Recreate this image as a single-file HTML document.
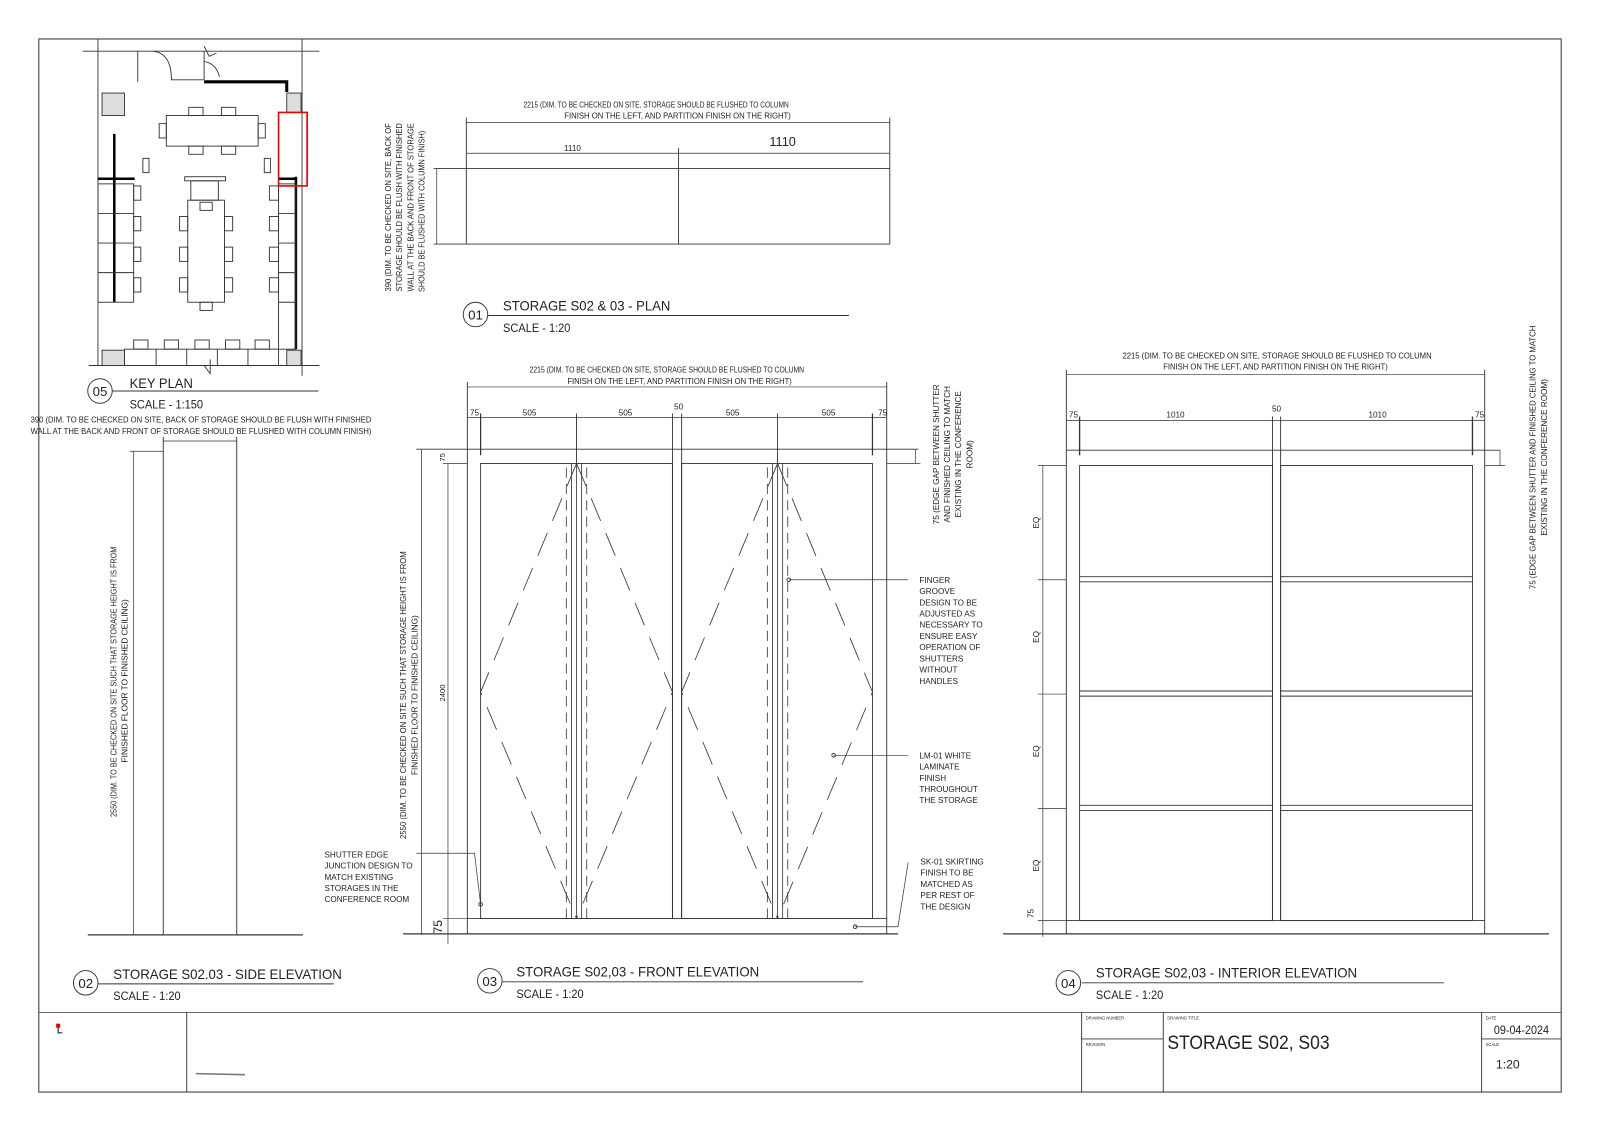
<!DOCTYPE html>
<html><head><meta charset="utf-8"><style>
html,body{margin:0;padding:0;background:#fff;}
svg{display:block;}
text{font-family:"Liberation Sans",Arial,sans-serif;fill:#222;}
.t{font-size:8px;}
.n{font-size:8px;}
.h{font-size:14px;}
.s{font-size:11.5px;}
</style></head><body>
<svg width="1600" height="1131" viewBox="0 0 1568 1108" xmlns="http://www.w3.org/2000/svg">
<g fill="none" stroke="#333" stroke-width="0.9">
<rect x="38" y="38" width="1492" height="1032" stroke="#555" stroke-width="1.2"/>
<line x1="38" y1="992" x2="1530" y2="992" stroke="#555"/>
<line x1="183" y1="992" x2="183" y2="1070"/>
<line x1="1060" y1="992" x2="1060" y2="1070"/>
<line x1="1140" y1="992" x2="1140" y2="1070"/>
<line x1="1452" y1="992" x2="1452" y2="1070"/>
<line x1="1060" y1="1018" x2="1140" y2="1018"/>
<line x1="1452" y1="1018" x2="1530" y2="1018"/>
<line x1="192" y1="1052" x2="240" y2="1053" stroke="#777" stroke-width="1.5"/>

<!-- KEY PLAN -->
<line x1="96" y1="38" x2="96" y2="296"/>
<line x1="296" y1="38" x2="296" y2="368"/>
<line x1="81" y1="50" x2="313" y2="50"/>
<line x1="87" y1="358" x2="313" y2="358"/>
<line x1="96" y1="296" x2="96" y2="358"/>
<line x1="135" y1="50" x2="135" y2="80"/>
<path d="M150 50 Q168 52 168 78 L200 78"/>
<path d="M200 50 L200 78 M200 60 Q212 62 215 75 M200 45 L205 55 L212 52"/>
<rect x="100" y="91" width="22" height="22" fill="#ddd"/>
<rect x="281" y="91" width="14" height="19" fill="#ddd"/>
<rect x="100" y="343" width="22" height="15" fill="#ddd"/>
<rect x="281" y="343" width="14" height="15" fill="#ddd"/>
<path d="M200 80 L281 80 L281 90" stroke="#000" stroke-width="3"/>
<path d="M290 173 L290 342" stroke="#000" stroke-width="2.5"/>
<path d="M112 131 L112 296" stroke="#000" stroke-width="2.5"/>
<path d="M96 175 L132 175 M273 175 L290 175" stroke="#000" stroke-width="2.5"/>
<rect x="163" y="113" width="90" height="30"/>
<rect x="185" y="105" width="14" height="8"/><rect x="217" y="105" width="14" height="8"/>
<rect x="185" y="143" width="14" height="8"/><rect x="217" y="143" width="14" height="8"/>
<rect x="156" y="121" width="7" height="14"/><rect x="253" y="121" width="7" height="14"/>
<rect x="181" y="173" width="40" height="4"/>
<rect x="187" y="177" width="27" height="19"/>
<rect x="184" y="196" width="36" height="100"/>
<rect x="196" y="198" width="12" height="8"/><rect x="196" y="296" width="12" height="8"/>
<rect x="176" y="212" width="8" height="14"/><rect x="176" y="242" width="8" height="14"/><rect x="176" y="272" width="8" height="14"/>
<rect x="220" y="212" width="8" height="14"/><rect x="220" y="242" width="8" height="14"/><rect x="220" y="272" width="8" height="14"/>
<rect x="96" y="180" width="35" height="116"/>
<line x1="96" y1="209" x2="131" y2="209"/><line x1="96" y1="238" x2="131" y2="238"/><line x1="96" y1="267" x2="131" y2="267"/>
<rect x="131" y="182" width="7" height="14"/><rect x="131" y="212" width="7" height="14"/><rect x="131" y="242" width="7" height="14"/><rect x="131" y="272" width="7" height="14"/>
<rect x="273" y="180" width="17" height="162"/>
<line x1="273" y1="209" x2="290" y2="209"/><line x1="273" y1="238" x2="290" y2="238"/><line x1="273" y1="267" x2="290" y2="267"/><line x1="273" y1="296" x2="290" y2="296"/>
<rect x="264" y="182" width="9" height="14"/><rect x="264" y="212" width="9" height="14"/><rect x="264" y="242" width="9" height="14"/><rect x="264" y="272" width="9" height="14"/>
<rect x="140" y="155" width="6" height="14"/><rect x="259" y="155" width="6" height="14"/>
<rect x="122" y="342" width="151" height="16"/>
<line x1="153" y1="342" x2="153" y2="358"/><line x1="183" y1="342" x2="183" y2="358"/><line x1="213" y1="342" x2="213" y2="358"/><line x1="243" y1="342" x2="243" y2="358"/>
<rect x="131" y="333" width="14" height="9"/><rect x="161" y="333" width="14" height="9"/><rect x="191" y="333" width="14" height="9"/><rect x="221" y="333" width="14" height="9"/><rect x="250" y="333" width="14" height="9"/>
<path d="M200 358 L206 366 L206 352"/>
<rect x="273" y="110" width="28" height="72" stroke="#e00" stroke-width="1.6"/>
<circle cx="98" cy="383" r="12"/>
<line x1="110" y1="383" x2="312" y2="383"/>

<!-- SIDE ELEVATION 02 -->
<line x1="160" y1="432" x2="232" y2="432" stroke-width="0.7"/>
<line x1="160" y1="428" x2="160" y2="916"/>
<line x1="232" y1="428" x2="232" y2="916"/>
<line x1="127" y1="442" x2="160" y2="442" stroke-width="0.7"/>
<line x1="131" y1="442" x2="131" y2="916" stroke-width="0.7"/>
<line x1="86" y1="916" x2="297" y2="916" stroke-width="1.2"/>
<circle cx="84" cy="963" r="12"/>
<line x1="96" y1="964" x2="327" y2="964"/>

<!-- PLAN 01 -->
<line x1="457" y1="120" x2="872" y2="120" stroke-width="0.7"/>
<line x1="457" y1="115" x2="457" y2="239"/>
<line x1="872" y1="115" x2="872" y2="239"/>
<line x1="457" y1="150" x2="872" y2="150" stroke-width="0.7"/>
<line x1="665" y1="145" x2="665" y2="239"/>
<line x1="425" y1="165" x2="872" y2="165"/>
<line x1="425" y1="239" x2="872" y2="239"/>
<line x1="428" y1="165" x2="428" y2="239" stroke-width="0.7"/>
<circle cx="466" cy="308" r="12"/>
<line x1="478" y1="309" x2="832" y2="309"/>

<!-- FRONT ELEVATION 03 -->
<line x1="458" y1="379" x2="869" y2="379" stroke-width="0.7"/>
<line x1="458" y1="409" x2="869" y2="409" stroke-width="0.7"/>
<line x1="408" y1="440" x2="900" y2="440"/>
<line x1="458" y1="374" x2="458" y2="915"/>
<line x1="869" y1="374" x2="869" y2="915"/>
<line x1="659" y1="405" x2="659" y2="900"/>
<line x1="668" y1="405" x2="668" y2="900"/>
<line x1="471" y1="405" x2="471" y2="446" stroke-width="1.2"/>
<line x1="855" y1="405" x2="855" y2="446" stroke-width="1.2"/>
<line x1="565" y1="405" x2="565" y2="454"/>
<line x1="762" y1="405" x2="762" y2="454"/>
<rect x="471" y="454" width="188" height="446"/>
<rect x="668" y="454" width="187" height="446"/>
<line x1="458" y1="900" x2="869" y2="900"/>
<line x1="395" y1="915" x2="880" y2="915" stroke-width="1.2"/>
<line x1="983" y1="915" x2="1518" y2="915" stroke-width="1.2"/>
<g stroke-width="0.8">
<line x1="560" y1="454" x2="560" y2="900"/><line x1="565" y1="454" x2="565" y2="900"/><line x1="570" y1="454" x2="570" y2="900"/>
<line x1="757" y1="454" x2="757" y2="900"/><line x1="762" y1="454" x2="762" y2="900"/><line x1="767" y1="454" x2="767" y2="900"/>
</g>
<g stroke-dasharray="10 6" stroke-width="0.8">
<line x1="555" y1="458" x2="555" y2="900"/><line x1="575" y1="458" x2="575" y2="900"/>
<line x1="752" y1="458" x2="752" y2="900"/><line x1="772" y1="458" x2="772" y2="900"/>
</g>
<g stroke-dasharray="24 13" stroke-width="0.8">
<path d="M565 454 L471 678 L565 900 M565 454 L659 678 L565 900"/>
<path d="M762 454 L668 678 L762 900 M762 454 L855 678 L762 900"/>
</g>
<line x1="897" y1="440" x2="897" y2="454" stroke-width="0.7"/>
<line x1="869" y1="454" x2="902" y2="454" stroke-width="0.7"/>
<line x1="413" y1="440" x2="413" y2="916" stroke-width="0.7"/>
<line x1="439" y1="454" x2="439" y2="925" stroke-width="0.7"/>
<line x1="434" y1="454" x2="458" y2="454" stroke-width="0.7"/>
<line x1="434" y1="900" x2="458" y2="900" stroke-width="0.7"/>
<path d="M773 568 L890 568" stroke-width="0.7"/><circle cx="773" cy="568" r="1.8"/>
<path d="M817 740 L890 740" stroke-width="0.7"/><circle cx="817" cy="740" r="1.8"/>
<path d="M838 908 L880 908 L890 845" stroke-width="0.7"/><circle cx="838" cy="908" r="1.8"/>
<path d="M408 836 L465 836 L471 886" stroke-width="0.7"/><circle cx="471" cy="886" r="1.8"/>
<circle cx="480" cy="961" r="12"/>
<line x1="492" y1="962" x2="846" y2="962"/>

<!-- INTERIOR ELEVATION 04 -->
<line x1="1045" y1="367" x2="1455" y2="367" stroke-width="0.7"/>
<line x1="1045" y1="412" x2="1455" y2="412" stroke-width="0.7"/>
<line x1="1045" y1="362" x2="1045" y2="915"/>
<line x1="1455" y1="362" x2="1455" y2="915"/>
<line x1="1045" y1="441" x2="1470" y2="441"/>
<line x1="1058" y1="408" x2="1058" y2="446" stroke-width="1.3"/>
<line x1="1443" y1="408" x2="1443" y2="446" stroke-width="1.3"/>
<line x1="1247" y1="408" x2="1247" y2="902"/>
<line x1="1255" y1="408" x2="1255" y2="902"/>
<rect x="1058" y="456" width="189" height="446"/>
<rect x="1255" y="456" width="188" height="446"/>
<g>
<line x1="1058" y1="565" x2="1247" y2="565"/><line x1="1058" y1="570" x2="1247" y2="570"/>
<line x1="1255" y1="565" x2="1443" y2="565"/><line x1="1255" y1="570" x2="1443" y2="570"/>
<line x1="1058" y1="677" x2="1247" y2="677"/><line x1="1058" y1="682" x2="1247" y2="682"/>
<line x1="1255" y1="677" x2="1443" y2="677"/><line x1="1255" y1="682" x2="1443" y2="682"/>
<line x1="1058" y1="789" x2="1247" y2="789"/><line x1="1058" y1="794" x2="1247" y2="794"/>
<line x1="1255" y1="789" x2="1443" y2="789"/><line x1="1255" y1="794" x2="1443" y2="794"/>
</g>
<line x1="1045" y1="902" x2="1455" y2="902"/>
<line x1="1022" y1="456" x2="1022" y2="918" stroke-width="0.7"/>
<g stroke-width="0.7">
<line x1="1017" y1="456" x2="1045" y2="456"/><line x1="1017" y1="568" x2="1045" y2="568"/>
<line x1="1017" y1="680" x2="1045" y2="680"/><line x1="1017" y1="792" x2="1045" y2="792"/>
<line x1="1017" y1="902" x2="1045" y2="902"/>
<line x1="1470" y1="441" x2="1470" y2="456"/><line x1="1455" y1="456" x2="1475" y2="456"/>
</g>
<circle cx="1047" cy="963" r="12"/>
<line x1="1060" y1="963" x2="1415" y2="963"/>
</g>

<!-- TEXT -->
<g>
<text x="98" y="388" font-size="13" text-anchor="middle">05</text>
<text x="127" y="380" font-size="13.5" textLength="62" lengthAdjust="spacingAndGlyphs">KEY PLAN</text>
<text x="127" y="400" class="s" textLength="72" lengthAdjust="spacingAndGlyphs">SCALE - 1:150</text>
<text x="30" y="414" class="t" textLength="334" lengthAdjust="spacingAndGlyphs">390 (DIM. TO BE CHECKED ON SITE, BACK OF STORAGE SHOULD BE FLUSH WITH FINISHED</text>
<text x="30" y="425" class="t" textLength="334" lengthAdjust="spacingAndGlyphs">WALL AT THE BACK AND FRONT OF STORAGE SHOULD BE FLUSHED WITH COLUMN FINISH)</text>
<g transform="rotate(-90 114 668)"><text x="114" y="668" class="t" text-anchor="middle" textLength="265" lengthAdjust="spacingAndGlyphs">2550 (DIM. TO BE CHECKED ON SITE SUCH THAT STORAGE HEIGHT IS FROM</text></g>
<g transform="rotate(-90 125 667)"><text x="125" y="667" class="t" text-anchor="middle" textLength="160" lengthAdjust="spacingAndGlyphs">FINISHED FLOOR TO FINISHED CEILING)</text></g>
<text x="84" y="968" font-size="13" text-anchor="middle">02</text>
<text x="111" y="959" class="h" textLength="224" lengthAdjust="spacingAndGlyphs">STORAGE S02.03 - SIDE ELEVATION</text>
<text x="111" y="980" class="s" textLength="66" lengthAdjust="spacingAndGlyphs">SCALE - 1:20</text>

<text x="513" y="105" class="t" textLength="260" lengthAdjust="spacingAndGlyphs">2215 (DIM. TO BE CHECKED ON SITE, STORAGE SHOULD BE FLUSHED TO COLUMN</text>
<text x="553" y="116" class="t" textLength="222" lengthAdjust="spacingAndGlyphs">FINISH ON THE LEFT, AND PARTITION FINISH ON THE RIGHT)</text>
<text x="561" y="148" class="n" text-anchor="middle">1110</text>
<text x="767" y="143" font-size="12.5" text-anchor="middle">1110</text>
<g transform="rotate(-90 383 203)"><text x="383" y="203" class="t" text-anchor="middle" textLength="165" lengthAdjust="spacingAndGlyphs">390 (DIM. TO BE CHECKED ON SITE, BACK OF</text></g>
<g transform="rotate(-90 394 203)"><text x="394" y="203" class="t" text-anchor="middle" textLength="165" lengthAdjust="spacingAndGlyphs">STORAGE SHOULD BE FLUSH WITH FINISHED</text></g>
<g transform="rotate(-90 405 203)"><text x="405" y="203" class="t" text-anchor="middle" textLength="165" lengthAdjust="spacingAndGlyphs">WALL AT THE BACK AND FRONT OF STORAGE</text></g>
<g transform="rotate(-90 416 207)"><text x="416" y="207" class="t" text-anchor="middle" textLength="158" lengthAdjust="spacingAndGlyphs">SHOULD BE FLUSHED WITH COLUMN FINISH)</text></g>
<text x="466" y="313" font-size="13" text-anchor="middle">01</text>
<text x="493" y="304" class="h" textLength="164" lengthAdjust="spacingAndGlyphs">STORAGE S02 &amp; 03 - PLAN</text>
<text x="493" y="325" class="s" textLength="66" lengthAdjust="spacingAndGlyphs">SCALE - 1:20</text>

<text x="519" y="365" class="t" textLength="269" lengthAdjust="spacingAndGlyphs">2215 (DIM. TO BE CHECKED ON SITE, STORAGE SHOULD BE FLUSHED TO COLUMN</text>
<text x="556" y="376" class="t" textLength="220" lengthAdjust="spacingAndGlyphs">FINISH ON THE LEFT, AND PARTITION FINISH ON THE RIGHT)</text>
<text x="465" y="407" class="n" text-anchor="middle">75</text>
<text x="519" y="407" class="n" text-anchor="middle">505</text>
<text x="613" y="407" class="n" text-anchor="middle">505</text>
<text x="665" y="401" class="n" text-anchor="middle">50</text>
<text x="718" y="407" class="n" text-anchor="middle">505</text>
<text x="812" y="407" class="n" text-anchor="middle">505</text>
<text x="865" y="407" class="n" text-anchor="middle">75</text>
<g transform="rotate(-90 436 448)"><text x="436" y="448" font-size="7.5" text-anchor="middle">75</text></g>
<g transform="rotate(-90 436 679)"><text x="436" y="679" font-size="7.5" text-anchor="middle">2400</text></g>
<g transform="rotate(-90 433 908)"><text x="433" y="908" font-size="12" text-anchor="middle">75</text></g>
<g transform="rotate(-90 398 681)"><text x="398" y="681" class="t" text-anchor="middle" textLength="282" lengthAdjust="spacingAndGlyphs">2550 (DIM. TO BE CHECKED ON SITE SUCH THAT STORAGE HEIGHT IS FROM</text></g>
<g transform="rotate(-90 409 681)"><text x="409" y="681" class="t" text-anchor="middle">FINISHED FLOOR TO FINISHED CEILING)</text></g>
<g transform="rotate(-90 920 445)"><text x="920" y="445" class="t" text-anchor="middle">75 (EDGE GAP BETWEEN SHUTTER</text></g>
<g transform="rotate(-90 931 445)"><text x="931" y="445" class="t" text-anchor="middle">AND FINISHED CEILING TO MATCH</text></g>
<g transform="rotate(-90 942 445)"><text x="942" y="445" class="t" text-anchor="middle">EXISTING IN THE CONFERENCE</text></g>
<g transform="rotate(-90 953 445)"><text x="953" y="445" class="t" text-anchor="middle">ROOM)</text></g>
<g class="t">
<text x="901" y="571">FINGER</text><text x="901" y="582">GROOVE</text><text x="901" y="593">DESIGN TO BE</text><text x="901" y="604">ADJUSTED AS</text><text x="901" y="615">NECESSARY TO</text><text x="901" y="626">ENSURE EASY</text><text x="901" y="637">OPERATION OF</text><text x="901" y="648">SHUTTERS</text><text x="901" y="659">WITHOUT</text><text x="901" y="670">HANDLES</text>
<text x="901" y="743">LM-01 WHITE</text><text x="901" y="754">LAMINATE</text><text x="901" y="765">FINISH</text><text x="901" y="776">THROUGHOUT</text><text x="901" y="787">THE STORAGE</text>
<text x="902" y="847">SK-01 SKIRTING</text><text x="902" y="858">FINISH TO BE</text><text x="902" y="869">MATCHED AS</text><text x="902" y="880">PER REST OF</text><text x="902" y="891">THE DESIGN</text>
<text x="318" y="840">SHUTTER EDGE</text><text x="318" y="851">JUNCTION DESIGN TO</text><text x="318" y="862">MATCH EXISTING</text><text x="318" y="873">STORAGES IN THE</text><text x="318" y="884">CONFERENCE ROOM</text>
</g>
<text x="480" y="966" font-size="13" text-anchor="middle">03</text>
<text x="506" y="957" class="h" textLength="238" lengthAdjust="spacingAndGlyphs">STORAGE S02,03 - FRONT ELEVATION</text>
<text x="506" y="978" class="s" textLength="66" lengthAdjust="spacingAndGlyphs">SCALE - 1:20</text>

<text x="1100" y="351" class="t" textLength="303" lengthAdjust="spacingAndGlyphs">2215 (DIM. TO BE CHECKED ON SITE, STORAGE SHOULD BE FLUSHED TO COLUMN</text>
<text x="1140" y="362" class="t" textLength="220" lengthAdjust="spacingAndGlyphs">FINISH ON THE LEFT, AND PARTITION FINISH ON THE RIGHT)</text>
<text x="1052" y="409" class="n" text-anchor="middle">75</text>
<text x="1152" y="409" class="n" text-anchor="middle">1010</text>
<text x="1251" y="403" class="n" text-anchor="middle">50</text>
<text x="1350" y="409" class="n" text-anchor="middle">1010</text>
<text x="1450" y="409" class="n" text-anchor="middle">75</text>
<g transform="rotate(-90 1018 512)"><text x="1018" y="512" class="n" text-anchor="middle">EQ</text></g>
<g transform="rotate(-90 1018 624)"><text x="1018" y="624" class="n" text-anchor="middle">EQ</text></g>
<g transform="rotate(-90 1018 736)"><text x="1018" y="736" class="n" text-anchor="middle">EQ</text></g>
<g transform="rotate(-90 1018 848)"><text x="1018" y="848" class="n" text-anchor="middle">EQ</text></g>
<g transform="rotate(-90 1013 895)"><text x="1013" y="895" class="n" text-anchor="middle">75</text></g>
<g transform="rotate(-90 1505 448)"><text x="1505" y="448" class="t" text-anchor="middle" textLength="258" lengthAdjust="spacingAndGlyphs">75 (EDGE GAP BETWEEN SHUTTER AND FINISHED CEILING TO MATCH</text></g>
<g transform="rotate(-90 1516 448)"><text x="1516" y="448" class="t" text-anchor="middle">EXISTING IN THE CONFERENCE ROOM)</text></g>
<text x="1047" y="968" font-size="13" text-anchor="middle">04</text>
<text x="1074" y="958" class="h" textLength="256" lengthAdjust="spacingAndGlyphs">STORAGE S02,03 - INTERIOR ELEVATION</text>
<text x="1074" y="979" class="s" textLength="66" lengthAdjust="spacingAndGlyphs">SCALE - 1:20</text>

<text x="1064" y="999" font-size="4">DRAWING NUMBER</text>
<text x="1064" y="1025" font-size="4">REVISION</text>
<text x="1144" y="999" font-size="4">DRAWING TITLE</text>
<text x="1144" y="1028" font-size="19" textLength="159" lengthAdjust="spacingAndGlyphs">STORAGE S02, S03</text>
<text x="1456" y="999" font-size="4">DATE</text>
<text x="1464" y="1013" font-size="12" textLength="54" lengthAdjust="spacingAndGlyphs">09-04-2024</text>
<text x="1456" y="1025" font-size="4">SCALE</text>
<text x="1466" y="1047" font-size="12">1:20</text>
</g>
<rect x="55" y="1003" width="4" height="4" fill="#e00"/>
<path d="M57 1006 L57 1012 L61 1012" stroke="#333" fill="none" stroke-width="1.2"/>
</svg>
</body></html>
